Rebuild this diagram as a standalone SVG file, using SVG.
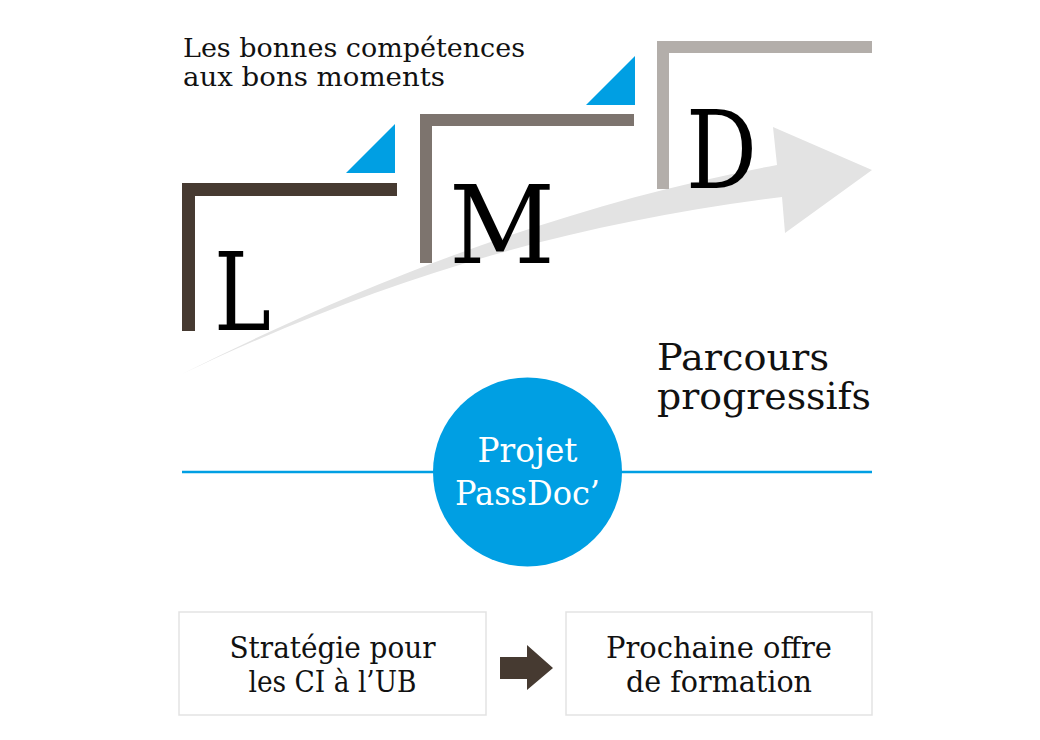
<svg xmlns="http://www.w3.org/2000/svg" width="1040" height="740" viewBox="0 0 1040 740">
<style>
.t{font-family:"DejaVu Serif","Liberation Serif",serif;fill:#111}
.big{font-size:108px;fill:#000}
.cond{font-family:"DejaVu Serif Condensed","DejaVu Serif",serif;font-stretch:condensed;font-size:30px;fill:#111}
.tri{fill:#009fe3}
.box{fill:#fff;stroke:#e3e3e3;stroke-width:1.5}
</style>
<rect width="1040" height="740" fill="#fff"/>
<g id="title">
<text class="t" x="183" y="57" font-size="26" textLength="342" lengthAdjust="spacingAndGlyphs">Les bonnes compétences</text>
<text class="t" x="183" y="86" font-size="26" textLength="262" lengthAdjust="spacingAndGlyphs">aux bons moments</text>
</g>
<g id="progress-arrow">
<path d="M182,374 C360,285 560,205 777,165 L773,127 L872,170 L785,233 L782,197 C560,225 380,280 182,374 Z" fill="#e3e3e3"/>
</g>
<g id="node-L">
<path d="M182,183 H397 V196 H195 V331 H182 Z" fill="#463a31"/>
<path d="M346,173 L395,124 L395,173 Z" class="tri"/>
<text class="t big" x="214" y="330" textLength="57" lengthAdjust="spacingAndGlyphs">L</text>
</g>
<g id="node-M">
<path d="M420,114 H634 V126 H432 V263 H420 Z" fill="#7d746e"/>
<path d="M586,105 L635,56 L635,105 Z" class="tri"/>
<text class="t big" x="449" y="263" textLength="106" lengthAdjust="spacingAndGlyphs">M</text>
</g>
<g id="node-D">
<path d="M657,41 H872 V53 H669 V189 H657 Z" fill="#b3aeaa"/>
<text class="t big" x="686" y="188" textLength="71" lengthAdjust="spacingAndGlyphs">D</text>
</g>
<g id="parcours">
<text class="t" x="657" y="370" font-size="37" textLength="172" lengthAdjust="spacingAndGlyphs">Parcours</text>
<text class="t" x="657" y="409" font-size="37" textLength="214" lengthAdjust="spacingAndGlyphs">progressifs</text>
</g>
<g id="connectors">
<line x1="182" y1="472" x2="872" y2="472" stroke="#009fe3" stroke-width="2.5"/>
<path d="M500,657 H527 V645 L553,668 L527,690 V679 H500 Z" fill="#463a31"/>
</g>
<g id="node-passdoc">
<circle cx="527.5" cy="472" r="94.5" fill="#009fe3"/>
<text class="t" x="527.5" y="462" font-size="33" fill="#fff" style="fill:#fff" text-anchor="middle" textLength="100" lengthAdjust="spacingAndGlyphs">Projet</text>
<text class="t" x="527.5" y="505" font-size="33" fill="#fff" style="fill:#fff" text-anchor="middle" textLength="145" lengthAdjust="spacingAndGlyphs">PassDoc’</text>
</g>
<g id="node-strategie">
<rect class="box" x="179" y="612" width="307" height="103"/>
<text class="cond" x="332.5" y="658" text-anchor="middle" textLength="206" lengthAdjust="spacingAndGlyphs">Stratégie pour</text>
<text class="cond" x="332.5" y="692" text-anchor="middle" textLength="168" lengthAdjust="spacingAndGlyphs">les CI à l’UB</text>
</g>
<g id="node-offre">
<rect class="box" x="566" y="612" width="306" height="103"/>
<text class="cond" x="719" y="658" text-anchor="middle" textLength="226" lengthAdjust="spacingAndGlyphs">Prochaine offre</text>
<text class="cond" x="719" y="692" text-anchor="middle" textLength="186" lengthAdjust="spacingAndGlyphs">de formation</text>
</g>
</svg>
